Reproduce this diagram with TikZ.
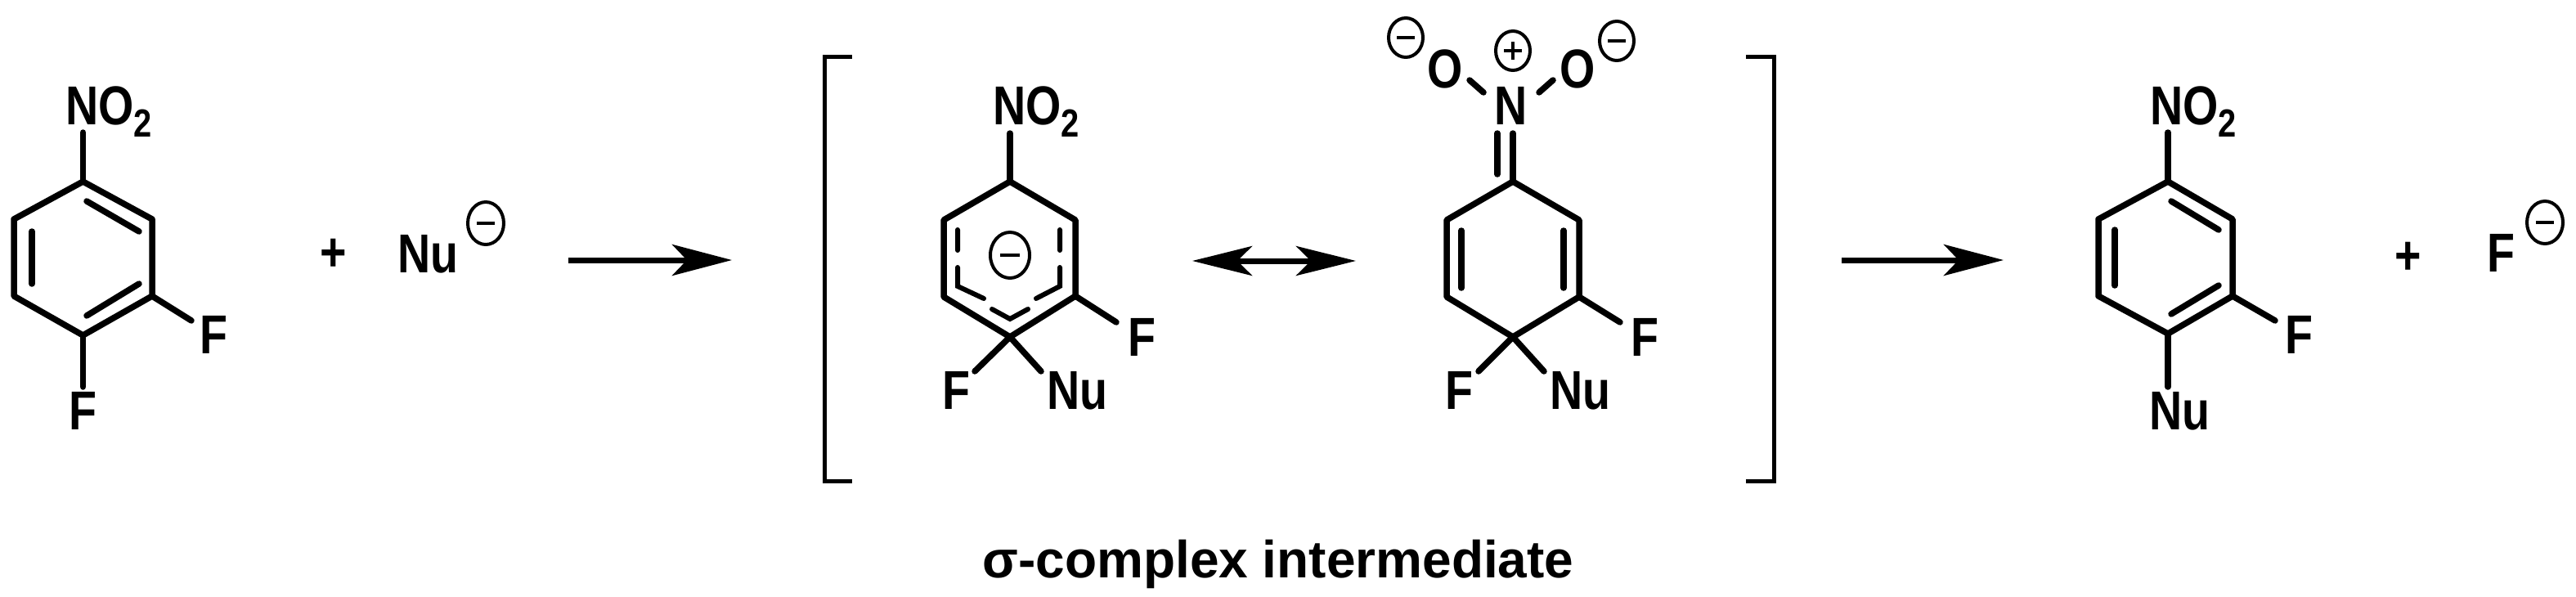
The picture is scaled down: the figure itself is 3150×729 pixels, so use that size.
\documentclass[tikz,border=0pt]{standalone}
\usepackage{fontspec}
\setmainfont{Liberation Sans}[FakeStretch=0.83]
\newfontfamily\capfont{Liberation Sans}
\usetikzlibrary{arrows.meta}
\begin{document}
\begin{tikzpicture}[x=1pt,y=-1pt,
  bond/.style={line width=7.5pt,line cap=round,line join=round},
  lbl/.style={inner sep=0pt,anchor=base west,font=\fontsize{67}{70}\selectfont\bfseries},
  lblc/.style={lbl,anchor=base},
  rarrow/.style={line width=7pt,-{Stealth[length=73pt,width=38pt,inset=18pt]}},
  brk/.style={line width=5pt},
  chg/.style={line width=4pt}]
\useasboundingbox (0,0) rectangle (3150,729);
% ---------- molecule 1
\coordinate (a1) at (101.5,222); \coordinate (a2) at (186,268); \coordinate (a3) at (186,362);
\coordinate (a4) at (101.5,410); \coordinate (a5) at (17,362); \coordinate (a6) at (17,268);
\draw[bond] (a1)--(a2)--(a3)--(a4)--(a5)--(a6)--cycle;
\draw[bond] (106,246)--(170,283);
\draw[bond] (39,283)--(39,347);
\draw[bond] (170,347)--(106,386);
\coordinate (a1n) at (101.5,162); \draw[bond] (a1)--(a1n);
\coordinate (a3f) at (234,392); \draw[bond] (a3)--(a3f);
\coordinate (a4f) at (101.5,473); \draw[bond] (a4)--(a4f);
\node[lbl] (m1no2) at (80,152) {NO\raisebox{-15pt}{\fontsize{48}{50}\selectfont 2}};
\node[lbl] (m1f1) at (244,432) {F};
\node[lbl] (m1f2) at (84,525) {F};
\node[lblc] (plus1) at (408,331) {+};
\node[lbl] (nu) at (486,333) {Nu};
\draw[chg] (594,273) ellipse (22 and 26); \draw[chg] (583,273)--(605,273);
\coordinate (r1s) at (695,318); \coordinate (r1e) at (895,318);
\draw[rarrow] (r1s)--(r1e);
% ---------- left bracket
\draw[brk] (1042,69)--(1008,69)--(1008,588)--(1042,588);
% ---------- intermediate 1
\coordinate (b1) at (1235,222); \coordinate (b2) at (1315,269); \coordinate (b3) at (1315,362);
\coordinate (b4) at (1235,412); \coordinate (b5) at (1154,363); \coordinate (b6) at (1154,269);
\draw[bond] (b1)--(b2)--(b3)--(b4)--(b5)--(b6)--cycle;
\draw[line width=6pt,line cap=round] (1171,281)--(1171,306) (1171,327)--(1171,350)--(1203,365)
  (1213,378)--(1235,390)--(1257,378) (1267,365)--(1296,350)--(1296,327) (1296,306)--(1296,281);
\draw[chg] (1235,312) ellipse (24 and 28); \draw[chg] (1223,312)--(1247,312);
\coordinate (b1n) at (1235,163); \draw[bond] (b1)--(b1n);
\coordinate (b3f) at (1365,394); \draw[bond] (b3)--(b3f);
\coordinate (b4f) at (1192,454); \draw[bond] (b4)--(b4f);
\coordinate (b4n) at (1273,454); \draw[bond] (b4)--(b4n);
\node[lbl] (i1no2) at (1214,152) {NO\raisebox{-15pt}{\fontsize{48}{50}\selectfont 2}};
\node[lbl] (i1f1) at (1379,435) {F};
\node[lbl] (i1f2) at (1152,500) {F};
\node[lbl] (i1nu) at (1280,500) {Nu};
\coordinate (rs) at (1458,319); \coordinate (re) at (1658,319);
\draw[line width=7pt,{Stealth[length=73pt,width=36pt,inset=18pt]}-{Stealth[length=73pt,width=36pt,inset=18pt]}] (rs)--(re);
% ---------- intermediate 2
\coordinate (c1) at (1850,222); \coordinate (c2) at (1931,269); \coordinate (c3) at (1931,363);
\coordinate (c4) at (1850,412); \coordinate (c5) at (1769,363); \coordinate (c6) at (1769,269);
\draw[bond] (c1)--(c2)--(c3)--(c4)--(c5)--(c6)--cycle;
\draw[bond] (1787,282)--(1787,352);
\draw[bond] (1912,282)--(1912,352);
\coordinate (c1n) at (1850,163); \draw[bond] (c1)--(c1n);
\draw[bond] (1831,163)--(1831,213);
\node[lblc] (nN) at (1848,152) {N};
\node[lblc] (o1) at (1767,107) {O};
\node[lblc] (o2) at (1929,107) {O};
\draw[bond] (1797,98)--(1814,113);
\draw[bond] (1882,113)--(1899,98);
\draw[chg] (1850,62) ellipse (21 and 24); \draw[chg] (1839,62)--(1861,62) (1850,51)--(1850,73);
\draw[chg] (1719,46) ellipse (21 and 24); \draw[chg] (1708,46)--(1730,46);
\draw[chg] (1977,50) ellipse (21 and 24); \draw[chg] (1966,50)--(1988,50);
\coordinate (c3f) at (1981,394); \draw[bond] (c3)--(c3f);
\coordinate (c4f) at (1808,454); \draw[bond] (c4)--(c4f);
\coordinate (c4n) at (1888,454); \draw[bond] (c4)--(c4n);
\node[lbl] (i2f1) at (1994,435) {F};
\node[lbl] (i2f2) at (1767,500) {F};
\node[lbl] (i2nu) at (1895,500) {Nu};
% ---------- right bracket
\draw[brk] (2135,69)--(2169,69)--(2169,588)--(2135,588);
\coordinate (r2s) at (2252,318); \coordinate (r2e) at (2450,318);
\draw[rarrow] (r2s)--(r2e);
% ---------- product
\coordinate (d1) at (2651,222); \coordinate (d2) at (2730,268); \coordinate (d3) at (2730,362);
\coordinate (d4) at (2651,408); \coordinate (d5) at (2566,362); \coordinate (d6) at (2566,268);
\draw[bond] (d1)--(d2)--(d3)--(d4)--(d5)--(d6)--cycle;
\draw[bond] (2655,246)--(2713,281);
\draw[bond] (2586,281)--(2586,349);
\draw[bond] (2713,349)--(2655,384);
\coordinate (d1n) at (2651,162); \draw[bond] (d1)--(d1n);
\coordinate (d3f) at (2782,392); \draw[bond] (d3)--(d3f);
\coordinate (d4n) at (2651,473); \draw[bond] (d4)--(d4n);
\node[lbl] (pno2) at (2629,152) {NO\raisebox{-15pt}{\fontsize{48}{50}\selectfont 2}};
\node[lbl] (pf) at (2794,432) {F};
\node[lbl] (pnu) at (2628,525) {Nu};
\node[lblc] (plus2) at (2945,335) {+};
\node[lbl] (fm) at (3041,332) {F};
\draw[chg] (3112,272) ellipse (22 and 26); \draw[chg] (3101,272)--(3123,272);
% ---------- caption
\node[lblc,font=\capfont\fontsize{64}{70}\selectfont\bfseries] (cap) at (1563,706) {σ-complex intermediate};
\end{tikzpicture}
\end{document}
